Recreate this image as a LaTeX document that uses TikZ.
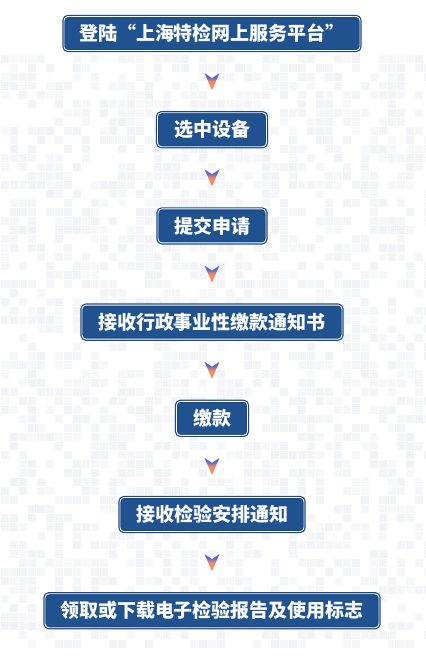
\documentclass[tikz,border=0pt]{standalone}
\usepackage{fontspec}
\newfontfamily\cjk{Noto Sans CJK SC}
\usepackage{tikz}
\usetikzlibrary{positioning,calc}

\definecolor{boxblue}{HTML}{1F528F}
\definecolor{boxedge}{HTML}{1A4A86}
\definecolor{chevblue}{HTML}{5868D8}
\definecolor{chevorange}{HTML}{F8895A}
\definecolor{tilegray}{HTML}{F2F3F6}
\pgfdeclareverticalshading{chevshade}{100bp}{color(0bp)=(chevorange); color(50bp)=(chevorange); color(63bp)=(chevblue); color(100bp)=(chevblue)}

\begin{document}
\begin{tikzpicture}[x=1pt, y=-1pt]
        % Define styles
        \tikzset{
            stepbox/.style={rectangle, rounded corners=4pt, draw=boxedge, double=white, double distance=0.9pt, line width=1.2pt, fill=boxblue, text=white, font=\cjk\bfseries\fontsize{19}{19}\selectfont, minimum height=34pt, inner xsep=0pt, inner ysep=0pt},
            chevron/.style={shading=chevshade},
            tile/.style={fill=tilegray}
        }
        \useasboundingbox (0,0) rectangle (426,665);
        \fill[white] (0,0) rectangle (426,665);

        % Background tiles
        \pgfmathsetseed{17}
        \foreach \i in {0,...,47}{
            \foreach \j in {6,...,71}{
                \pgfmathsetmacro{\r}{rnd}
                \ifdim\r pt>0.5pt
                    \fill[tile, opacity=\r] (\i*9+0.5,\j*9+0.5) rectangle ++(8,8);
                \fi
            }
        }

        % Create nodes
        \node [stepbox, minimum width=296pt] (login) at (212,33.5) {登陆“上海特检网上服务平台”};
        \node [stepbox, minimum width=109pt, below=61pt of login] (select) {选中设备};
        \node [stepbox, minimum width=108pt, below=61pt of select] (apply) {提交申请};
        \node [stepbox, minimum width=260pt, below=61pt of apply] (notice) {接收行政事业性缴款通知书};
        \node [stepbox, minimum width=71pt, below=61pt of notice] (pay) {缴款};
        \node [stepbox, minimum width=184pt, below=61pt of pay] (schedule) {接收检验安排通知};
        \node [stepbox, minimum width=334pt, below=61pt of schedule] (report) {领取或下载电子检验报告及使用标志};

        % Create arrows
        \foreach \a/\b in {login/select, select/apply, apply/notice, notice/pay, pay/schedule, schedule/report}
            \shade [chevron] ($(\a.south)!0.5!(\b.north)$) ++(-7.5,-8.5) -- ++(7.5,5) -- ++(7.5,-5) -- ++(-7.5,17) -- cycle;
\end{tikzpicture}
\end{document}
